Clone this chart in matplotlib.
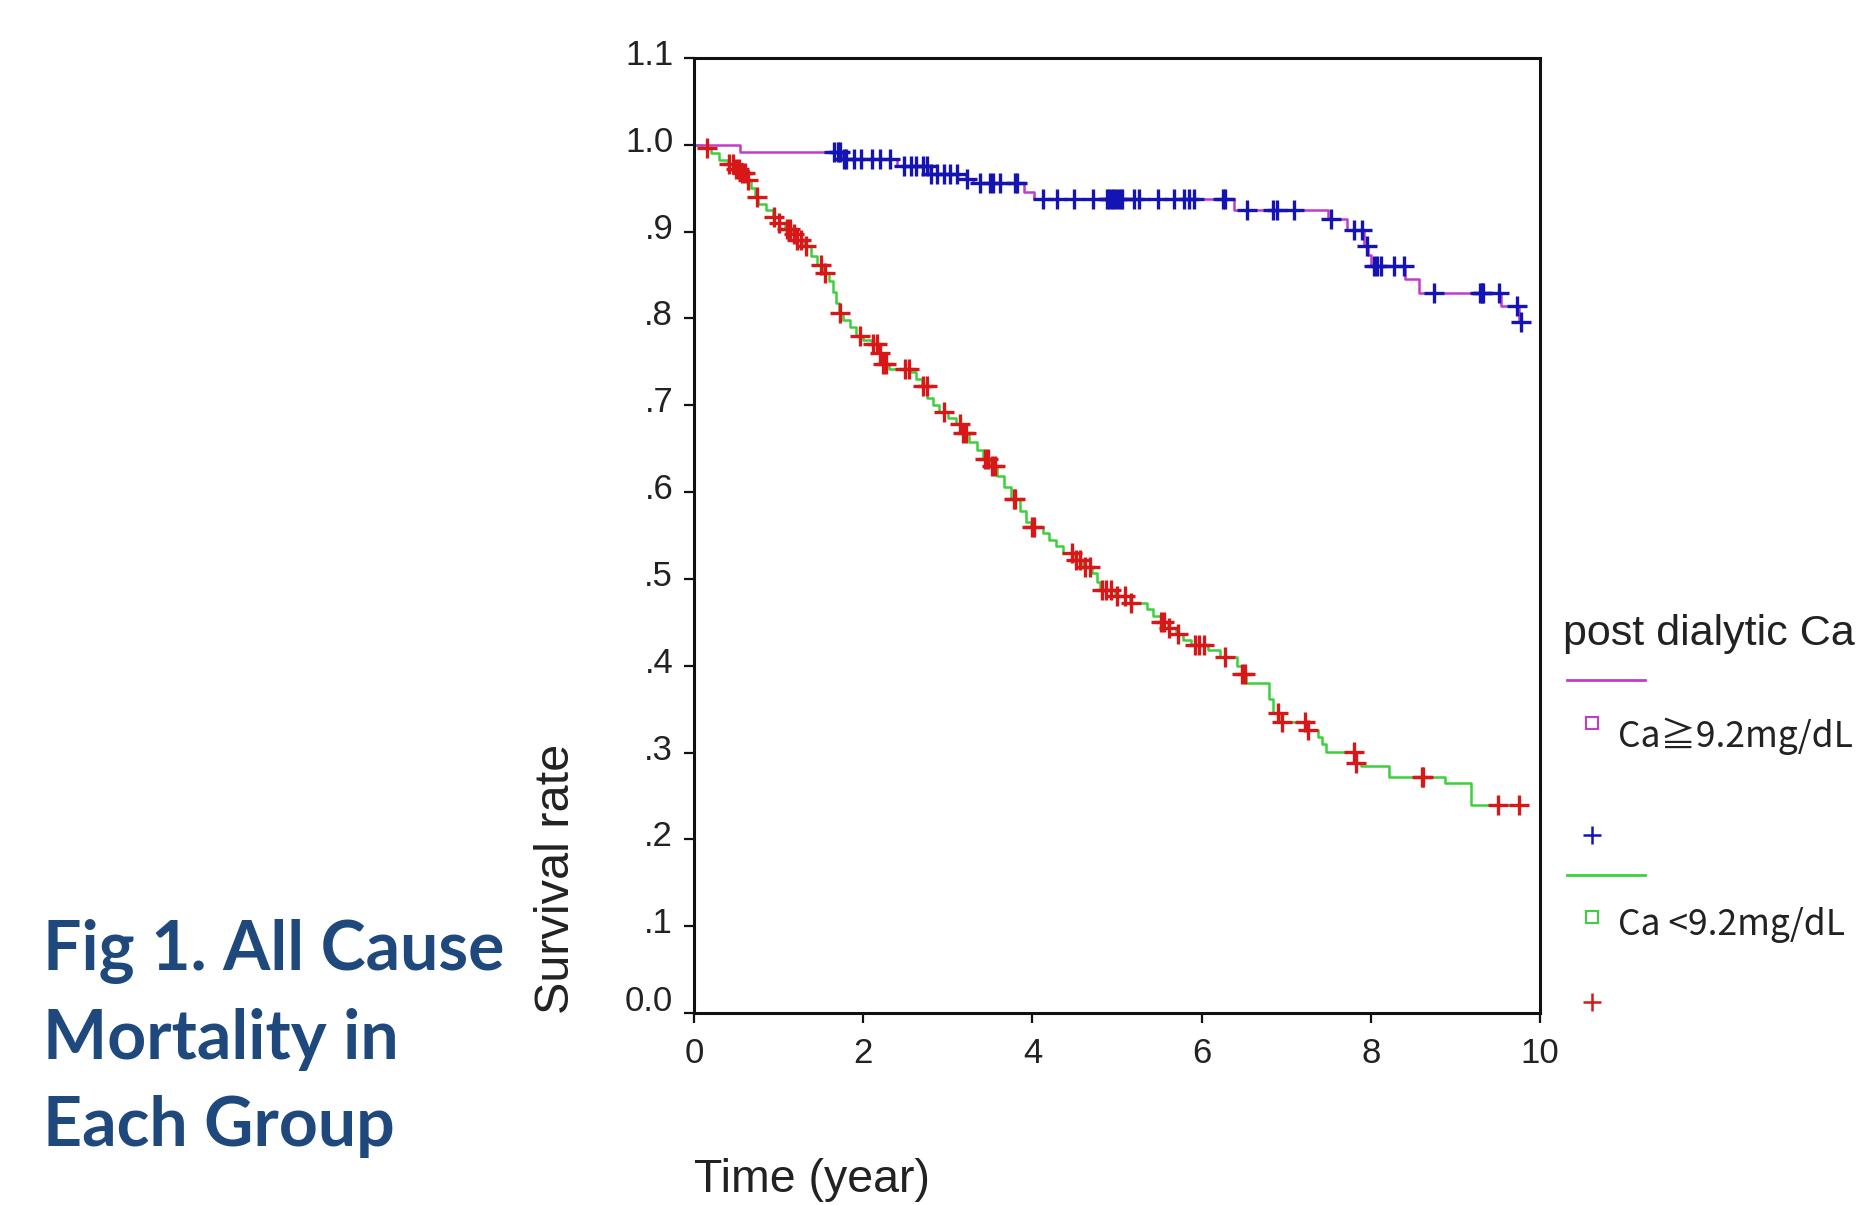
import matplotlib
matplotlib.use("Agg")
import matplotlib.pyplot as plt
import numpy as np
from matplotlib.lines import Line2D
from matplotlib.transforms import ScaledTranslation

# Ca >= 9.2 mg/dL group: event times and survival after each step
g1_times = [0, 0.54, 1.75, 2.40, 2.77, 3.21, 3.30, 3.90, 4.02, 6.38, 7.49,
            7.72, 7.92, 7.97, 8.00, 8.41, 8.57, 9.54, 9.75]
g1_surv = [1.0, 0.992, 0.984, 0.975, 0.966, 0.961, 0.956, 0.946, 0.937, 0.925,
           0.914, 0.902, 0.884, 0.873, 0.860, 0.845, 0.829, 0.814, 0.796]
g1_censor = [1.65, 1.70, 1.73, 1.77, 1.80, 1.89, 1.98, 2.10, 2.20, 2.32, 2.48,
             2.56, 2.63, 2.71, 2.75, 2.80, 2.87, 2.95, 3.03, 3.11, 3.23, 3.38,
             3.50, 3.54, 3.62, 3.80, 3.82, 4.13, 4.29, 4.49, 4.72, 4.88, 4.91,
             4.94, 4.97, 5.00, 5.03, 5.06, 5.20, 5.26, 5.49, 5.67, 5.79, 5.85,
             5.91, 6.25, 6.28, 6.54, 6.84, 6.89, 7.09, 7.53, 7.80, 7.90, 7.95,
             8.04, 8.07, 8.12, 8.27, 8.39, 8.75, 9.29, 9.31, 9.33, 9.52, 9.73,
             9.77]

# Ca < 9.2 mg/dL group
g2_times = [0, 0.10, 0.20, 0.30, 0.40, 0.48, 0.55, 0.62, 0.68, 0.72,
            0.76, 0.85, 0.93, 1.00, 1.08, 1.15, 1.22, 1.30, 1.38, 1.45,
            1.53, 1.60, 1.64, 1.68, 1.72, 1.76, 1.85, 1.92, 2.00, 2.10,
            2.18, 2.24, 2.30, 2.55, 2.62, 2.70, 2.76, 2.82, 2.90, 3.00,
            3.10, 3.18, 3.25, 3.35, 3.42, 3.50, 3.58, 3.66, 3.75, 3.85,
            3.92, 3.98, 4.13, 4.20, 4.28, 4.36, 4.50, 4.60, 4.70, 4.76,
            4.80, 4.98, 5.15, 5.36, 5.42, 5.52, 5.60, 5.70, 5.78, 5.88,
            6.08, 6.22, 6.42, 6.48, 6.52, 6.80, 6.85, 6.92, 7.25, 7.38,
            7.42, 7.47, 7.82, 7.89, 8.21, 8.88, 9.18]
g2_surv = [1.0, 0.996, 0.990, 0.983, 0.978, 0.972, 0.967, 0.960, 0.950, 0.940,
           0.932, 0.925, 0.917, 0.910, 0.903, 0.897, 0.890, 0.883, 0.872, 0.862,
           0.852, 0.843, 0.830, 0.818, 0.806, 0.798, 0.790, 0.780, 0.775, 0.770,
           0.760, 0.748, 0.742, 0.738, 0.730, 0.722, 0.708, 0.700, 0.692, 0.685,
           0.678, 0.668, 0.658, 0.648, 0.638, 0.630, 0.618, 0.606, 0.592, 0.578,
           0.566, 0.560, 0.553, 0.545, 0.538, 0.530, 0.522, 0.514, 0.507, 0.497,
           0.487, 0.480, 0.472, 0.465, 0.457, 0.450, 0.443, 0.437, 0.430, 0.424,
           0.418, 0.410, 0.400, 0.390, 0.380, 0.362, 0.345, 0.335, 0.326, 0.318,
           0.310, 0.301, 0.288, 0.284, 0.272, 0.265, 0.240]
g2_censor = [0.15, 0.42, 0.46, 0.50, 0.53, 0.57, 0.60, 0.64, 0.74, 0.95, 1.00,
             1.10, 1.14, 1.18, 1.22, 1.27, 1.32, 1.50, 1.55, 1.73, 1.96, 2.12,
             2.16, 2.20, 2.24, 2.27, 2.50, 2.54, 2.71, 2.75, 2.95, 3.15, 3.18,
             3.22, 3.44, 3.48, 3.52, 3.56, 3.78, 3.80, 4.00, 4.02, 4.47, 4.52,
             4.56, 4.62, 4.68, 4.82, 4.87, 4.93, 5.00, 5.10, 5.16, 5.52, 5.55,
             5.62, 5.72, 5.92, 5.97, 6.03, 6.28, 6.48, 6.51, 6.90, 6.95, 7.22,
             7.26, 7.80, 7.82, 8.60, 8.62, 9.50, 9.75]

x_ticks = [0, 2, 4, 6, 8, 10]
y_ticks = [0.0, 0.1, 0.2, 0.3, 0.4, 0.5, 0.6, 0.7, 0.8, 0.9, 1.0, 1.1]
y_tick_labels = ["0.0", ".1", ".2", ".3", ".4", ".5", ".6", ".7", ".8", ".9",
                 "1.0", "1.1"]

MAGENTA = "#C23CC8"
BLUE = "#1414B4"
GREEN = "#3CD03C"
RED = "#D81818"
TXT = "#222222"
TITLE_BLUE = "#1F497D"
SANS = ["Liberation Sans", "DejaVu Sans"]
JP = ["Noto Sans CJK JP", "DejaVu Sans"]


def surv_at(times, surv, t):
    idx = np.searchsorted(np.asarray(times), np.asarray(t), side="right") - 1
    return np.asarray(surv)[idx]


def km_line(ax, times, surv, censor, line_color, mark_color):
    end = max(censor[-1], times[-1])
    xs = list(times) + [end]
    ys = list(surv) + [surv[-1]]
    ax.step(xs, ys, where="post", color=line_color, lw=1.8, zorder=2)
    ax.plot(censor, surv_at(times, surv, censor), ls="none", marker="+",
            ms=14, mew=2.4, color=mark_color, zorder=3)


fig = plt.figure(figsize=(18.59, 12.05), dpi=100)
ax = fig.add_axes([0.3733, 0.1593, 0.4551, 0.7926])

km_line(ax, g2_times, g2_surv, g2_censor, GREEN, RED)
km_line(ax, g1_times, g1_surv, g1_censor, MAGENTA, BLUE)

ax.set_xlim(0, 10)
ax.set_ylim(0, 1.1)
ax.set_xticks(x_ticks)
ax.set_xticklabels([str(v) for v in x_ticks], fontfamily=SANS, fontsize=25,
                   color=TXT)
ax.set_yticks(y_ticks)
ax.set_yticklabels(y_tick_labels, fontfamily=SANS, fontsize=25, color=TXT)
ax.tick_params(direction="out", length=7, width=1.6, color="#111111")
ax.tick_params(axis="x", pad=10)
ax.tick_params(axis="y", pad=8)
for sp in ax.spines.values():
    sp.set_linewidth(2.2)
    sp.set_color("#111111")

# SPSS-style: tick labels sit a little above their ticks, 0.0 even more
for tick, val in zip(ax.yaxis.get_major_ticks(), y_ticks):
    dy = 0.15 if val == 0.0 else 0.06
    tick.label1.set_transform(tick.label1.get_transform()
                              + ScaledTranslation(0, dy, fig.dpi_scale_trans))

fig.text(0.2996, 0.1585, "Survival rate", rotation=90, ha="center",
         va="bottom", fontsize=35, color=TXT, family=SANS)
fig.text(694 / 1859, 1 - 1180 / 1205, "Time (year)", ha="left", va="center",
         fontsize=33.5, color=TXT, family=SANS)


# legend drawn in figure pixel space
def fx(px):
    return px / 1859


def fy(py):
    return 1 - py / 1205


fig.text(fx(1563), fy(645), "post dialytic Ca", ha="left", va="baseline",
         fontsize=31, color=TXT, family=SANS)
fig.add_artist(Line2D([fx(1567), fx(1645)], [fy(680), fy(680)],
                      color=MAGENTA, lw=2))
fig.add_artist(Line2D([fx(1592)], [fy(723)], marker="s", ms=8, mfc="none",
                      mec=MAGENTA, mew=1.5, ls="none"))
fig.text(fx(1618), fy(747), "Ca≧9.2mg/dL", ha="left", va="baseline",
         fontsize=25.5, color=TXT, family=JP)
fig.add_artist(Line2D([fx(1592)], [fy(835)], marker="+", ms=13, mew=1.8,
                      color=BLUE, ls="none"))
fig.add_artist(Line2D([fx(1567), fx(1645)], [fy(875), fy(875)],
                      color=GREEN, lw=2))
fig.add_artist(Line2D([fx(1592)], [fy(917)], marker="s", ms=8, mfc="none",
                      mec=GREEN, mew=1.5, ls="none"))
fig.text(fx(1618), fy(935), "Ca <9.2mg/dL", ha="left", va="baseline",
         fontsize=25.5, color=TXT, family=JP)
fig.add_artist(Line2D([fx(1592)], [fy(1002)], marker="+", ms=13, mew=1.8,
                      color=RED, ls="none"))

# slide caption
for line, base in [("Fig 1. All Cause", 970), ("Mortality in", 1059),
                   ("Each Group", 1146)]:
    fig.text(fx(43), fy(base), line, ha="left", va="baseline", fontsize=49,
             fontweight="bold", color=TITLE_BLUE, family=["Lato", "DejaVu Sans"])

fig.savefig("out.png", dpi=100)
